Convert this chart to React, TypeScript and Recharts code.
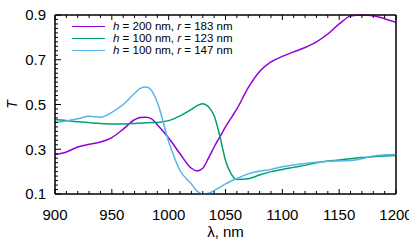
import React from 'react';
import { LineChart, Line, XAxis, YAxis, Label, ReferenceArea } from 'recharts';

// wavelength grid, nm
const lambdaNm = [
  900, 910, 920, 930, 940, 950, 960, 970, 975, 980, 985, 990, 1000, 1010, 1020, 1025, 1030,
  1035, 1040, 1045, 1050, 1055, 1060, 1070, 1080, 1090, 1100, 1110, 1120, 1130, 1140, 1150,
  1160, 1170, 1180, 1190, 1200,
];

// h = 200 nm, r = 183 nm
const tH200R183 = [
  0.276, 0.288, 0.31, 0.322, 0.332, 0.352, 0.39, 0.432, 0.442, 0.443, 0.436, 0.41, 0.35,
  0.28, 0.215, 0.203, 0.215, 0.26, 0.31, 0.355, 0.4, 0.44, 0.48, 0.575, 0.648, 0.69, 0.715,
  0.735, 0.755, 0.78, 0.815, 0.86, 0.895, 0.9, 0.897, 0.883, 0.867,
];

// h = 100 nm, r = 123 nm
const tH100R123 = [
  0.433, 0.428, 0.423, 0.419, 0.415, 0.413, 0.413, 0.415, 0.417, 0.418, 0.419, 0.42, 0.428,
  0.449, 0.478, 0.495, 0.503, 0.49, 0.45, 0.36, 0.25, 0.19, 0.165, 0.168, 0.185, 0.2, 0.21,
  0.219, 0.228, 0.24, 0.247, 0.252, 0.258, 0.263, 0.267, 0.27, 0.272,
];

// h = 100 nm, r = 147 nm
const tH100R147 = [
  0.42, 0.426, 0.436, 0.447, 0.443, 0.465, 0.5, 0.55, 0.572, 0.578, 0.562, 0.51, 0.335,
  0.205, 0.145, 0.113, 0.1, 0.103, 0.115, 0.13, 0.145, 0.158, 0.169, 0.19, 0.202, 0.21,
  0.222, 0.23, 0.236, 0.242, 0.246, 0.248, 0.25, 0.258, 0.27, 0.275, 0.277,
];

const seriesNames = [
  { h: '200', r: '183' },
  { h: '100', r: '123' },
  { h: '100', r: '147' },
];
const seriesColors = ['#9400d3', '#009e73', '#56b4e9'];

const xTicks = [900, 910, 920, 930, 940, 950, 960, 970, 980, 990, 1000, 1010, 1020, 1030,
  1040, 1050, 1060, 1070, 1080, 1090, 1100, 1110, 1120, 1130, 1140, 1150, 1160, 1170, 1180,
  1190, 1200];
const yTicks = Array.from({ length: 41 }, (_, i) => Math.round((0.1 + i * 0.02) * 100) / 100);

const data = lambdaNm.map((l, i) => ({
  lambda: l,
  a: tH200R183[i],
  b: tH100R123[i],
  c: tH100R147[i],
}));

const FONT = '"Liberation Sans", Arial, Helvetica, sans-serif';
const INK = '#000';

const XTick = ({ x, y, payload, side }: any) => {
  const v = payload.value;
  const major = v % 50 === 0;
  const len = major ? 5 : 3;
  const dir = side === 'top' ? 1 : -1;
  return (
    <g>
      <line x1={x} y1={y} x2={x} y2={y + dir * len} stroke={INK} strokeWidth={1} />
      {side === 'bottom' && major && (
        <text x={x} y={y + 26} textAnchor="middle" fontSize={15} fontFamily={FONT} fill={INK}>
          {v}
        </text>
      )}
    </g>
  );
};

const YTick = ({ x, y, payload, side }: any) => {
  const v = payload.value;
  const major = Math.round(v * 100) % 20 === 10;
  const len = major ? 6 : 3;
  const dir = side === 'right' ? -1 : 1;
  return (
    <g>
      <line x1={x} y1={y} x2={x + dir * len} y2={y} stroke={INK} strokeWidth={1} />
      {side === 'left' && major && (
        <text x={x - 9} y={y + 5.3} textAnchor="end" fontSize={15} fontFamily={FONT} fill={INK}>
          {v.toFixed(1)}
        </text>
      )}
    </g>
  );
};

const YTitle = ({ viewBox }: any) => {
  const cy = viewBox.y + viewBox.height / 2;
  return (
    <text
      x={17}
      y={cy}
      transform={`rotate(-90, 17, ${cy})`}
      textAnchor="middle"
      fontSize={14}
      fontStyle="italic"
      fontFamily={FONT}
      fill={INK}
    >
      T
    </text>
  );
};

// key drawn in HTML, sitting in the top-left of the plot
function Key() {
  return (
    <div style={{ position: 'absolute', left: 72, top: 20, fontFamily: FONT, fontSize: 11.5, lineHeight: '12px', color: INK }}>
      {seriesNames.map((s, i) => (
        <div key={i} style={{ height: 12, whiteSpace: 'nowrap' }}>
          <span
            style={{
              display: 'inline-block',
              width: 33,
              height: 0,
              borderTop: `1.5px solid ${seriesColors[i]}`,
              verticalAlign: 'middle',
              marginRight: 8,
            }}
          />
          <i>h</i>
          {` = ${s.h} nm, `}
          <i>r</i>
          {` = ${s.r} nm`}
        </div>
      ))}
    </div>
  );
}

export default function App() {
  return (
    <div style={{ position: 'fixed', left: 0, top: 0, width: 409, height: 245, background: '#fff' }}>
      <div style={{ position: 'relative', width: 409, height: 245 }}>
        <LineChart width={409} height={245} data={data} margin={{ top: 14, right: 12, bottom: 0, left: 0 }}>
          <XAxis
            xAxisId="bottom"
            dataKey="lambda"
            type="number"
            domain={[900, 1200]}
            ticks={xTicks}
            interval={0}
            height={51}
            tickSize={0}
            tickMargin={0}
            tickLine={false}
            tick={<XTick side="bottom" />}
            axisLine={{ stroke: INK, strokeWidth: 1 }}
          >
            <Label
              value="λ, nm"
              position="insideBottom"
              offset={8}
              style={{ fontSize: 15, fontFamily: FONT, fill: INK }}
            />
          </XAxis>
          <XAxis
            xAxisId="top"
            orientation="top"
            dataKey="lambda"
            type="number"
            domain={[900, 1200]}
            ticks={xTicks}
            interval={0}
            height={1}
            tickSize={0}
            tickMargin={0}
            tickLine={false}
            tick={<XTick side="top" />}
            axisLine={{ stroke: INK, strokeWidth: 1 }}
          />
          <YAxis
            yAxisId="left"
            type="number"
            domain={[0.1, 0.9]}
            ticks={yTicks}
            interval={0}
            width={55}
            tickSize={0}
            tickMargin={0}
            tickLine={false}
            tick={<YTick side="left" />}
            axisLine={{ stroke: INK, strokeWidth: 1 }}
            label={<YTitle />}
          />
          <YAxis
            yAxisId="right"
            orientation="right"
            type="number"
            domain={[0.1, 0.9]}
            ticks={yTicks}
            interval={0}
            width={1}
            tickSize={0}
            tickMargin={0}
            tickLine={false}
            tick={<YTick side="right" />}
            axisLine={{ stroke: INK, strokeWidth: 1 }}
          />
          <ReferenceArea
            xAxisId="bottom"
            yAxisId="left"
            x1={900}
            x2={1200}
            y1={0.1}
            y2={0.9}
            fill="none"
            stroke={INK}
            strokeWidth={1}
            ifOverflow="visible"
          />
          {['a', 'b', 'c'].map((k, i) => (
            <Line
              key={k}
              xAxisId="bottom"
              yAxisId="left"
              dataKey={k}
              type="monotone"
              stroke={seriesColors[i]}
              strokeWidth={1.5}
              dot={false}
              isAnimationActive={false}
            />
          ))}
        </LineChart>
        <Key />
      </div>
    </div>
  );
}
